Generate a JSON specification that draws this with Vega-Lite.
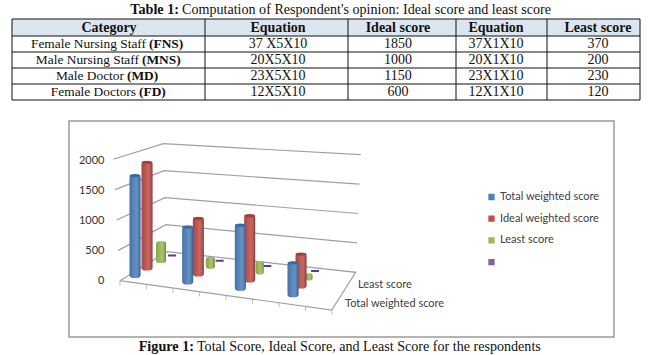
{
"$schema":"https://vega.github.io/schema/vega-lite/v6.json",
"width":648,"height":355,"padding":0,"autosize":{"type":"fit","contains":"padding"},"background":"white",
"config":{"view":{"stroke":null},"text":{"font":"Liberation Serif","fontSize":14,"color":"#111"}},
"datasets":{
"scores":[
{"category":"FNS","series":"Total weighted score","value":1750},{"category":"MNS","series":"Total weighted score","value":990},{"category":"MD","series":"Total weighted score","value":1130},{"category":"FD","series":"Total weighted score","value":600},
{"category":"FNS","series":"Ideal weighted score","value":1850},{"category":"MNS","series":"Ideal weighted score","value":1000},{"category":"MD","series":"Ideal weighted score","value":1150},{"category":"FD","series":"Ideal weighted score","value":600},
{"category":"FNS","series":"Least score","value":370},{"category":"MNS","series":"Least score","value":200},{"category":"MD","series":"Least score","value":230},{"category":"FD","series":"Least score","value":120},
{"category":"FNS","series":" ","value":0},{"category":"MNS","series":" ","value":0},{"category":"MD","series":" ","value":0},{"category":"FD","series":" ","value":0}],
"walls":[
{"level":2000,"corner":0,"step":0},{"level":2000,"corner":1,"step":1},{"level":2000,"corner":2,"step":2},
{"level":1500,"corner":0,"step":0},{"level":1500,"corner":1,"step":1},{"level":1500,"corner":2,"step":2},
{"level":1000,"corner":0,"step":0},{"level":1000,"corner":1,"step":1},{"level":1000,"corner":2,"step":2},
{"level":500,"corner":0,"step":0},{"level":500,"corner":1,"step":1},{"level":500,"corner":2,"step":2},
{"level":0,"corner":0,"step":0},{"level":0,"corner":1,"step":1},{"level":0,"corner":2,"step":2},{"level":0,"corner":3,"step":3},{"level":0,"corner":0,"step":4}],
"cells":[
{"row":1,"col":2,"text":"37 X5X10"},{"row":1,"col":3,"text":"1850"},{"row":1,"col":4,"text":"37X1X10"},{"row":1,"col":5,"text":"370"},
{"row":2,"col":2,"text":"20X5X10"},{"row":2,"col":3,"text":"1000"},{"row":2,"col":4,"text":"20X1X10"},{"row":2,"col":5,"text":"200"},
{"row":3,"col":2,"text":"23X5X10"},{"row":3,"col":3,"text":"1150"},{"row":3,"col":4,"text":"23X1X10"},{"row":3,"col":5,"text":"230"},
{"row":4,"col":2,"text":"12X5X10"},{"row":4,"col":3,"text":"600"},{"row":4,"col":4,"text":"12X1X10"},{"row":4,"col":5,"text":"120"}],
"heads":[{"row":0,"col":1,"text":"Category"},{"row":0,"col":2,"text":"Equation"},{"row":0,"col":3,"text":"Ideal score"},{"row":0,"col":4,"text":"Equation"},{"row":0,"col":5,"text":"Least score"}],
"names":[{"row":1,"name":"Female Nursing Staff","abbr":"(FNS)"},{"row":2,"name":"Male Nursing Staff","abbr":"(MNS)"},{"row":3,"name":"Male Doctor","abbr":"(MD)"},{"row":4,"name":"Female Doctors","abbr":"(FD)"}],
"vedges":[{"e":0,"t":0,"u":1},{"e":1,"t":0,"u":1},{"e":2,"t":0,"u":1},{"e":3,"t":0,"u":1},{"e":4,"t":0,"u":1},{"e":5,"t":0,"u":1}],
"hedges":[{"r":0,"t":0,"u":1},{"r":1,"t":0,"u":1},{"r":2,"t":0,"u":1},{"r":3,"t":0,"u":1},{"r":4,"t":0,"u":1},{"r":5,"t":0,"u":1}],
"captions":[{"id":"table","lead":"Table 1:","rest":"Computation of Respondent's opinion: Ideal score and least score"},{"id":"figure","lead":"Figure 1:","rest":"Total Score, Ideal Score, and Least Score for the respondents"}],
"levels":[{"level":0},{"level":500},{"level":1000},{"level":1500},{"level":2000}],
"depth":[{"name":"Total weighted score"},{"name":"Least score"}],
"ticks":[{"p":0},{"p":1},{"p":2},{"p":3},{"p":4},{"p":5},{"p":6},{"p":7},{"p":8}]
},
"layer":[
{"data":{"values":[{"a":0,"b":1}]},"mark":{"type":"rect","fill":"#ffffff","stroke":"#9a9a9a","strokeWidth":1.5},
 "encoding":{"x":{"field":"a","type":"quantitative","axis":null,"scale":{"domain":[0,1],"range":[69,614]}},"x2":{"field":"b"},"y":{"field":"a","type":"quantitative","axis":null,"scale":{"domain":[0,1],"range":[121,337]}},"y2":{"field":"b"}}},
{"data":{"values":[{"a":0,"b":1}]},"mark":{"type":"rect","fill":"#dce6f1"},
 "encoding":{"x":{"field":"a","type":"quantitative","axis":null,"scale":{"domain":[0,1],"range":[12,640]}},"x2":{"field":"b"},"y":{"field":"a","type":"quantitative","axis":null,"scale":{"domain":[0,1],"range":[19,36]}},"y2":{"field":"b"}}},
{"data":{"name":"vedges"},"mark":{"type":"rule","color":"#111","strokeWidth":1},
 "encoding":{"x":{"field":"e","type":"quantitative","axis":null,"scale":{"domain":[0,1,2,3,4,5],"range":[12,205,348,456,547,640]}},"y":{"field":"t","type":"quantitative","axis":null,"scale":{"domain":[0,1],"range":[19,100]}},"y2":{"field":"u"}}},
{"data":{"name":"hedges"},"mark":{"type":"rule","color":"#111","strokeWidth":1},
 "encoding":{"y":{"field":"r","type":"quantitative","axis":null,"scale":{"domain":[0,1,5],"range":[19,36,100]}},"x":{"field":"t","type":"quantitative","axis":null,"scale":{"domain":[0,1],"range":[12,640]}},"x2":{"field":"u"}}},
{"data":{"name":"heads"},"mark":{"type":"text","fontWeight":"bold","font":"Liberation Serif","fontSize":14},
 "encoding":{"text":{"field":"text"},"x":{"field":"col","type":"quantitative","axis":null,"scale":{"domain":[1,2,3,4,5],"range":[109,278,398,496,598]}},"y":{"field":"row","type":"quantitative","axis":null,"scale":{"domain":[0,1],"range":[28,44]}}}},
{"data":{"name":"cells"},"mark":{"type":"text","font":"Liberation Serif","fontSize":14},
 "encoding":{"text":{"field":"text"},"x":{"field":"col","type":"quantitative","axis":null,"scale":{"domain":[1,2,3,4,5],"range":[109,278,398,496,598]}},"y":{"field":"row","type":"quantitative","axis":null,"scale":{"domain":[0,4],"range":[28,92]}}}},
{"data":{"name":"names"},"mark":{"type":"text","align":"right","dx":-3,"font":"Liberation Serif","fontSize":13.4},
 "encoding":{"text":{"field":"name"},"x":{"field":"row","type":"quantitative","axis":null,"scale":{"domain":[1,2,3,4],"range":[149,142,127,139]}},"y":{"field":"row","type":"quantitative","axis":null,"scale":{"domain":[0,4],"range":[28,92]}}}},
{"data":{"name":"names"},"mark":{"type":"text","align":"left","fontWeight":"bold","font":"Liberation Serif","fontSize":13.4},
 "encoding":{"text":{"field":"abbr"},"x":{"field":"row","type":"quantitative","axis":null,"scale":{"domain":[1,2,3,4],"range":[149,142,127,139]}},"y":{"field":"row","type":"quantitative","axis":null,"scale":{"domain":[0,4],"range":[28,92]}}}},
{"data":{"name":"captions"},"mark":{"type":"text","align":"right","fontWeight":"bold","font":"Liberation Serif","fontSize":14.2},
 "encoding":{"text":{"field":"lead"},"x":{"field":"id","type":"nominal","axis":null,"scale":{"type":"point","padding":0,"domain":["table","figure"],"range":[179,194]}},"y":{"field":"id","type":"nominal","axis":null,"scale":{"type":"point","padding":0,"domain":["table","figure"],"range":[10,347]}}}},
{"data":{"name":"captions"},"mark":{"type":"text","align":"left","dx":3,"font":"Liberation Serif","fontSize":14.1},
 "encoding":{"text":{"field":"rest"},"x":{"field":"id","type":"nominal","axis":null,"scale":{"type":"point","padding":0,"domain":["table","figure"],"range":[179,194]}},"y":{"field":"id","type":"nominal","axis":null,"scale":{"type":"point","padding":0,"domain":["table","figure"],"range":[10,347]}}}},
{"data":{"name":"walls"},"mark":{"type":"line","color":"#a0a0a0","strokeWidth":1.2,
   "yOffset":{"expr":"[0,-29,-8.4,29.3][datum.corner]+datum.level/2000*[0,13.4,3.8,0][datum.corner]"},
   "xOffset":{"expr":"datum.level/2000*[-6.7,-3.4,5,0][datum.corner]"}},
 "encoding":{"detail":{"field":"level"},"order":{"field":"step","type":"quantitative"},
  "x":{"field":"corner","type":"quantitative","axis":null,"scale":{"domain":[0,1,2,3],"range":[120,166.7,355.7,331.7]}},
  "y":{"field":"level","type":"quantitative","scale":{"domain":[0,2000],"range":[280.7,159.3]},"axis":null}}},
{"data":{"name":"ticks"},"mark":{"type":"tick","orient":"vertical","color":"#a6a6a6","size":5},
 "encoding":{"x":{"field":"p","type":"quantitative","axis":null,"scale":{"domain":[0,8],"range":[120,332]}},"y":{"field":"p","type":"quantitative","axis":null,"scale":{"domain":[0,8],"range":[283,312]}}}},
{"data":{"name":"levels"},"mark":{"type":"text","align":"right","font":"Lato","fontSize":11,"color":"#333"},
 "encoding":{"text":{"field":"level"},"x":{"datum":1,"type":"quantitative","axis":null,"scale":{"domain":[0,1],"range":[0,104.5]}},"y":{"field":"level","type":"quantitative","axis":null,"scale":{"domain":[0,2000],"range":[281,161]}}}},
{"data":{"name":"depth"},"mark":{"type":"text","align":"left","font":"Lato","fontSize":11,"color":"#404040"},
 "encoding":{"text":{"field":"name"},"x":{"field":"name","type":"nominal","axis":null,"scale":{"type":"point","padding":0,"domain":["Total weighted score","Least score"],"range":[345,358]}},"y":{"field":"name","type":"nominal","axis":null,"scale":{"type":"point","padding":0,"domain":["Total weighted score","Least score"],"range":[304,285]}}}},
{"data":{"name":"scores"},"transform":[{"filter":"datum.series===' '"}],"mark":{"type":"bar","width":8,"fill":"#8064a2","stroke":"#5c3f8c","strokeWidth":2,
   "yOffset":{"expr":"indexof(['FNS','MNS','MD','FD'],datum.category)*5.2"},"y2Offset":{"expr":"indexof(['FNS','MNS','MD','FD'],datum.category)*5.2"}},
 "encoding":{"x":{"field":"category","type":"nominal","axis":null,"scale":{"type":"point","padding":0,"domain":["FNS","MNS","MD","FD"],"range":[172,315]}},
 "y":{"field":"value","type":"quantitative","axis":null,"stack":null,"scale":{"domain":[0,2000],"range":[255.5,137.5]}},"y2":{"datum":0}}},
{"data":{"name":"scores"},"transform":[{"filter":"datum.series==='Least score'"}],
 "encoding":{"x":{"field":"category","type":"nominal","axis":null,"scale":{"type":"point","padding":0,"domain":["FNS","MNS","MD","FD"],"range":[161,309]}},
 "y":{"field":"value","type":"quantitative","axis":null,"stack":null,"scale":{"domain":[0,2000],"range":[263,145]}}},
 "layer":[{"mark":{"type":"bar","fill":"#9bbb59","cornerRadius":2.5,"yOffset":{"expr":"indexof(['FNS','MNS','MD','FD'],datum.category)*5.8"},"y2Offset":{"expr":"indexof(['FNS','MNS','MD','FD'],datum.category)*5.8"}},"encoding":{"y2":{"datum":0},"size":{"field":"category","type":"nominal","legend":null,"scale":{"type":"point","padding":0,"domain":["FNS","MNS","MD","FD"],"range":[10,7]}}}},
 {"mark":{"type":"bar","cornerRadius":2.5,"yOffset":{"expr":"indexof(['FNS','MNS','MD','FD'],datum.category)*5.8"},"y2Offset":{"expr":"indexof(['FNS','MNS','MD','FD'],datum.category)*5.8"},"fill":{"gradient":"linear","x1":0,"x2":1,"y1":0,"y2":0,"stops":[{"offset":0,"color":"rgba(0,0,0,0.12)"},{"offset":0.6,"color":"rgba(255,255,255,0.12)"},{"offset":1,"color":"rgba(0,0,0,0.3)"}]}},"encoding":{"y2":{"datum":0},"size":{"field":"category","type":"nominal","legend":null,"scale":{"type":"point","padding":0,"domain":["FNS","MNS","MD","FD"],"range":[10,7]}}}}]},
{"data":{"name":"scores"},"transform":[{"filter":"datum.series==='Ideal weighted score'"}],
 "encoding":{"x":{"field":"category","type":"nominal","axis":null,"scale":{"type":"point","padding":0,"domain":["FNS","MNS","MD","FD"],"range":[147,301]}},
 "y":{"field":"value","type":"quantitative","axis":null,"stack":null,"scale":{"domain":[0,2000],"range":[270.5,152.5]}}},
 "layer":[{"mark":{"type":"bar","fill":"#c0504d","width":11,"cornerRadius":3,"yOffset":{"expr":"indexof(['FNS','MNS','MD','FD'],datum.category)*6"},"y2Offset":{"expr":"indexof(['FNS','MNS','MD','FD'],datum.category)*6"}},"encoding":{"y2":{"datum":0}}},
 {"mark":{"type":"bar","width":11,"cornerRadius":3,"yOffset":{"expr":"indexof(['FNS','MNS','MD','FD'],datum.category)*6"},"y2Offset":{"expr":"indexof(['FNS','MNS','MD','FD'],datum.category)*6"},"fill":{"gradient":"linear","x1":0,"x2":1,"y1":0,"y2":0,"stops":[{"offset":0,"color":"rgba(0,0,0,0.12)"},{"offset":0.6,"color":"rgba(255,255,255,0.12)"},{"offset":1,"color":"rgba(0,0,0,0.3)"}]}},"encoding":{"y2":{"datum":0}}},
 {"mark":{"type":"point","filled":true,"opacity":1,"fill":"#a33f3c","size":121,"shape":"M-1,0A1,0.3 0 1 1 1,0A1,0.3 0 1 1 -1,0Z","yOffset":{"expr":"indexof(['FNS','MNS','MD','FD'],datum.category)*6+1"}}}]},
{"data":{"name":"scores"},"transform":[{"filter":"datum.series==='Total weighted score'"}],
 "encoding":{"x":{"field":"category","type":"nominal","axis":null,"scale":{"type":"point","padding":0,"domain":["FNS","MNS","MD","FD"],"range":[135,293]}},
 "y":{"field":"value","type":"quantitative","axis":null,"stack":null,"scale":{"domain":[0,2000],"range":[278,160]}}},
 "layer":[{"mark":{"type":"bar","width":11,"cornerRadius":3,"yOffset":{"expr":"indexof(['FNS','MNS','MD','FD'],datum.category)*6.4"},"y2Offset":{"expr":"indexof(['FNS','MNS','MD','FD'],datum.category)*6.4"}},"encoding":{"y2":{"datum":0},"color":{"field":"series","type":"nominal","scale":{"domain":["Total weighted score","Ideal weighted score","Least score"," "],"range":["#4f81bd","#c0504d","#9bbb59","#8064a2"]},"legend":{"orient":"none","legendX":486,"legendY":191,"title":null,"symbolType":"square","symbolSize":40,"labelFont":"Lato","labelFontSize":11,"labelColor":"#404040","labelOffset":3,"rowPadding":9.7,"clipHeight":12}}}},
 {"mark":{"type":"bar","width":11,"cornerRadius":3,"yOffset":{"expr":"indexof(['FNS','MNS','MD','FD'],datum.category)*6.4"},"y2Offset":{"expr":"indexof(['FNS','MNS','MD','FD'],datum.category)*6.4"},"fill":{"gradient":"linear","x1":0,"x2":1,"y1":0,"y2":0,"stops":[{"offset":0,"color":"rgba(0,0,0,0.12)"},{"offset":0.6,"color":"rgba(255,255,255,0.12)"},{"offset":1,"color":"rgba(0,0,0,0.3)"}]}},"encoding":{"y2":{"datum":0}}},
 {"mark":{"type":"point","filled":true,"opacity":1,"fill":"#3a699f","size":121,"shape":"M-1,0A1,0.3 0 1 1 1,0A1,0.3 0 1 1 -1,0Z","yOffset":{"expr":"indexof(['FNS','MNS','MD','FD'],datum.category)*6.4+1"}}}]}
],
"resolve":{"scale":{"x":"independent","y":"independent"}}
}
